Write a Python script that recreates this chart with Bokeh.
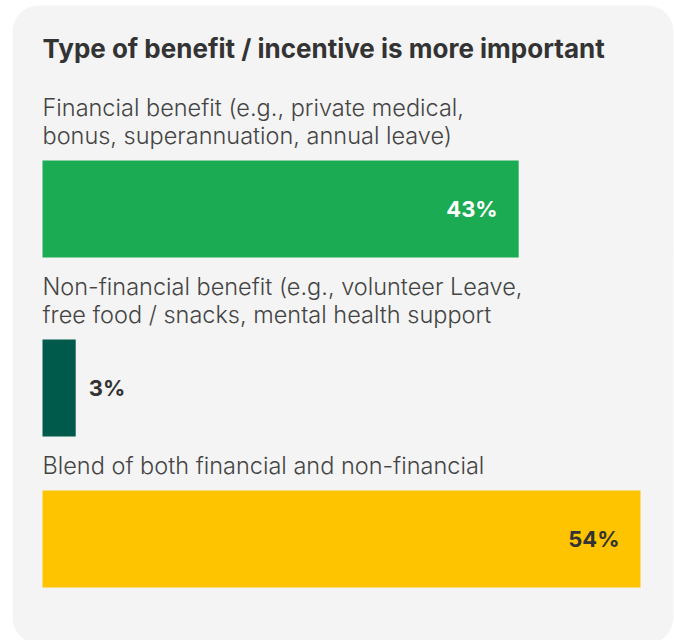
from bokeh.plotting import figure
from bokeh.models import Range1d, ColumnDataSource
from bokeh.core.properties import value
from bokeh.embed import file_html
from bokeh.resources import INLINE

# ---- data ----
title = "Type of benefit / incentive is more important"
categories = [
    "Financial benefit (e.g., private medical,\nbonus, superannuation, annual leave)",
    "Non-financial benefit (e.g., volunteer Leave,\nfree food / snacks, mental health support",
    "Blend of both financial and non-financial",
]
values = [43, 3, 54]
value_labels = ["43%", "3%", "54%"]

# ---- styles ----
bar_colors = ["#1aab53", "#005a4b", "#ffc400"]
label_colors = ["#ffffff", "#333333", "#333333"]
W, H = 674, 640
LEFT_PX, FULL_PX = 42, 598           # pixel span of the largest bar
px = FULL_PX / max(values)           # pixels per percent
FONT = "Inter"

p = figure(width=W, height=H, output_backend="svg", toolbar_location=None,
           x_axis_location=None, y_axis_location=None, min_border=0,
           x_range=Range1d(-LEFT_PX / px, (W - LEFT_PX) / px),
           y_range=Range1d(H, 0))
p.grid.visible = False
p.outline_line_color = None
p.background_fill_color = "white"
p.border_fill_color = "white"

# card background
p.quad(left=[(12 - LEFT_PX) / px], right=[(673 - LEFT_PX) / px],
       top=[5], bottom=[643], fill_color="#f4f4f4", line_color=None,
       border_radius=26)

# title
p.text(x=[0], y=[48], text=[title], text_font=value(FONT), text_font_style="bold",
       text_font_size="26px", text_color="#333333", text_baseline="middle")

# layout rows
LINE_H, TOP, BAR_H, GAP_BAR, GAP_AFTER = 28, 107, 97, 25, 29
lx, ly, lt = [], [], []
bar_c = []
y = TOP
for cat in categories:
    lines = cat.split("\n")
    for i, ln in enumerate(lines):
        lx.append(0); ly.append(y + i * LINE_H); lt.append(ln)
    last = y + (len(lines) - 1) * LINE_H
    bt = last + GAP_BAR
    bar_c.append(bt + BAR_H / 2)
    y = bt + BAR_H + GAP_AFTER

p.text(x=lx, y=ly, text=lt, text_font=value("Inter Light, Inter"), text_font_size="23.5px",
       text_color="#444444", text_baseline="middle")

src = ColumnDataSource(dict(y=bar_c, v=values, c=bar_colors,
                            lab=value_labels, lc=label_colors))
p.hbar(y="y", left=0, right="v", height=BAR_H, fill_color="c", line_color=None, source=src)

inside = [i for i, v in enumerate(values) if v >= 10]
outside = [i for i, v in enumerate(values) if v < 10]
for idxs, align, off in [(inside, "right", -21), (outside, "left", 13)]:
    s = ColumnDataSource(dict(x=[values[i] for i in idxs], y=[bar_c[i] for i in idxs],
                              t=[value_labels[i] for i in idxs],
                              c=[label_colors[i] for i in idxs]))
    p.text(x="x", y="y", text="t", text_color="c", source=s, x_offset=off,
           text_align=align, text_baseline="middle", text_font=value(FONT),
           text_font_style="bold", text_font_size="22px")

open("out.html", "w").write(file_html(p, INLINE))
